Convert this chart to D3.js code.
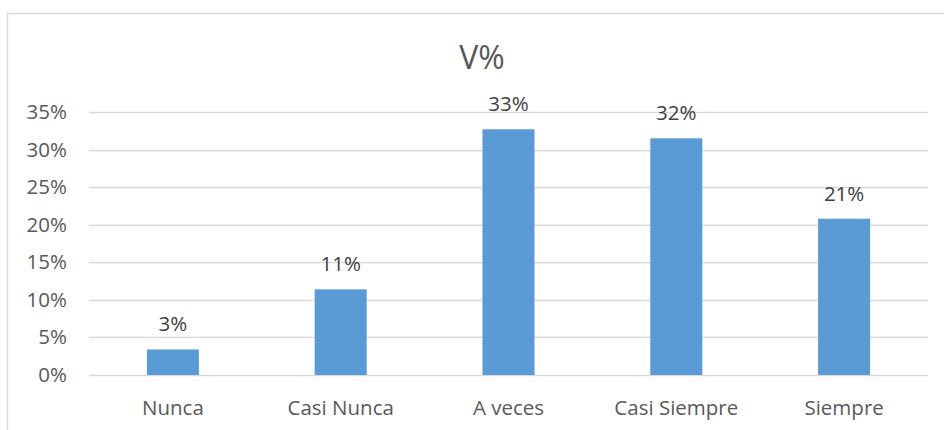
<!DOCTYPE html>
<html><head><meta charset="utf-8">
<script src="https://cdn.jsdelivr.net/npm/d3@7"></script>
<style>body{margin:0;background:#fff}svg{display:block}text{font-family:"Open Sans",sans-serif;fill:#595959}</style>
</head><body>
<script>
const categories = ["Nunca","Casi Nunca","A veces","Casi Siempre","Siempre"];
const values = [0.034, 0.114, 0.327, 0.315, 0.208];
const labels = ["3%","11%","33%","32%","21%"];
const yTicks = [0,0.05,0.10,0.15,0.20,0.25,0.30,0.35];
const title = "V%";

const W=944,H=430;
const FS="20.5px";
const svg=d3.select("body").append("svg").attr("width",W).attr("height",H);
svg.append("rect").attr("x",7.5).attr("y",13.5).attr("width",W+20).attr("height",H+20)
  .attr("fill","#fff").attr("stroke","#d9d9d9").attr("stroke-width",1.5);

const x=d3.scaleBand().domain(categories).range([89,928]).padding(0);
const y=d3.scaleLinear().domain([0,0.35]).range([375,112]);

svg.append("text").attr("x",482).attr("y",69).attr("text-anchor","middle")
  .style("font-size","32px").text(title);

svg.append("g").selectAll("line").data(yTicks).join("line")
  .attr("x1",89).attr("x2",928).attr("y1",d=>Math.round(y(d))+0.5).attr("y2",d=>Math.round(y(d))+0.5)
  .attr("stroke","#d9d9d9").attr("stroke-width",1.5);

const yAxis=d3.axisLeft(y).tickValues(yTicks).tickFormat(d3.format(".0%")).tickSize(0).tickPadding(0);
const ga=svg.append("g").attr("transform","translate(67,0)").call(yAxis);
ga.select(".domain").remove();
ga.selectAll("text").style("font-size",FS).style("font-family","'Open Sans',sans-serif").attr("fill","#595959");

const bw=x.bandwidth()*0.31;
svg.append("g").selectAll("rect").data(categories).join("rect")
  .attr("x",d=>x(d)+x.bandwidth()/2-bw/2).attr("width",bw)
  .attr("y",(d,i)=>y(values[i])).attr("height",(d,i)=>y(0)-y(values[i]))
  .attr("fill","#5b9bd5");

svg.append("g").selectAll("text").data(categories).join("text")
  .attr("x",d=>x(d)+x.bandwidth()/2).attr("y",(d,i)=>y(values[i])-18)
  .attr("text-anchor","middle").style("font-size",FS).style("fill","#404040").text((d,i)=>labels[i]);

const xAxis=d3.axisBottom(x).tickSize(0).tickPadding(0);
const gx=svg.append("g").attr("transform","translate(0,375)").call(xAxis);
gx.select(".domain").remove();
gx.selectAll("text").attr("dy",0).attr("y",40).style("font-size",FS).style("font-family","'Open Sans',sans-serif").attr("fill","#595959");
</script>
</body></html>
